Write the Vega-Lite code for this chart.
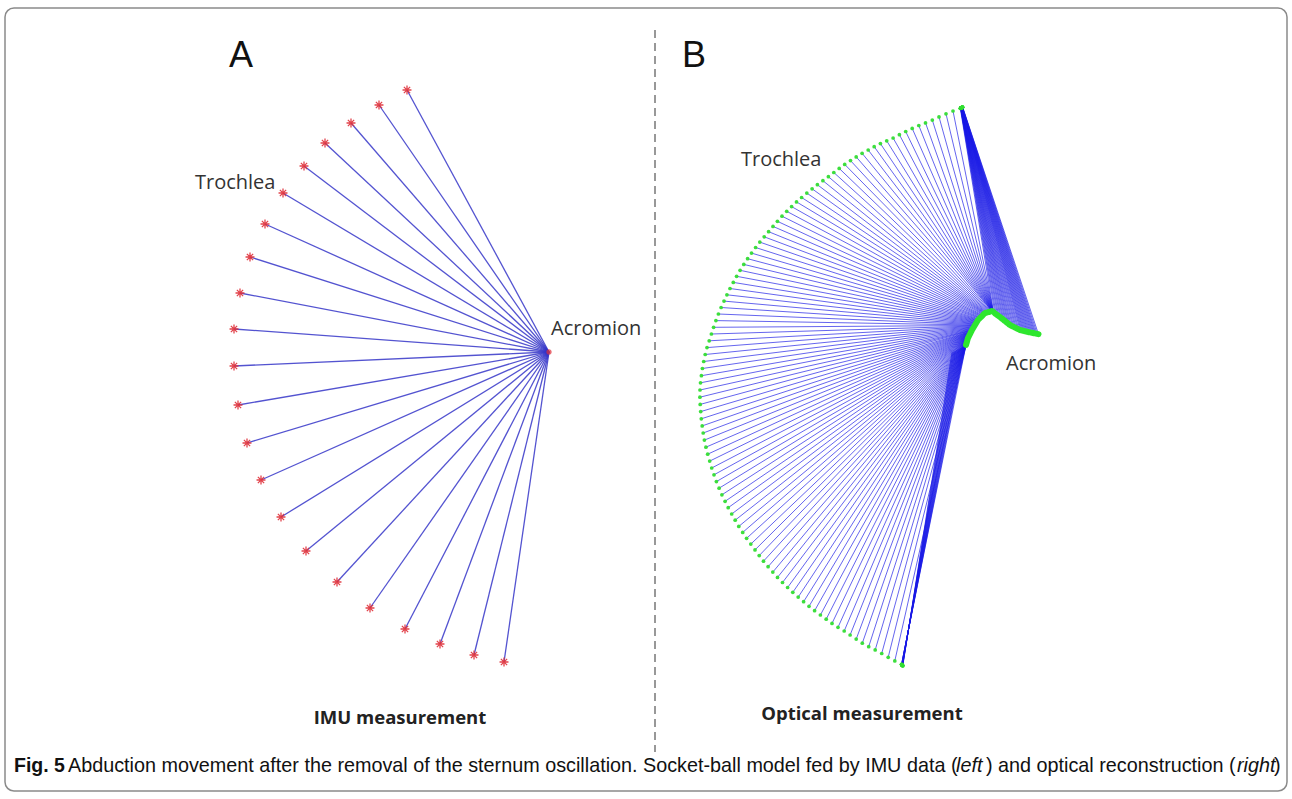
{
  "$schema": "https://vega.github.io/schema/vega-lite/v6.json",
  "width": 1292,
  "height": 799,
  "padding": 0,
  "autosize": {"type": "none"},
  "background": "white",
  "config": {"view": {"stroke": null}},
  "datasets": {
    "frame": [{"x0":5,"x1":1287,"y0":8,"y1":791,"dx":655,"dy0":30,"dy1":752,"acx":549,"acy":352}],
    "left": [
      {"x":407,"y":90},{"x":379,"y":105},{"x":351,"y":123},{"x":325,"y":143},{"x":304,"y":166},{"x":283,"y":193},{"x":265,"y":224},{"x":250,"y":257},{"x":240,"y":293},{"x":234,"y":329},{"x":234,"y":366},{"x":238,"y":405},{"x":247,"y":443},{"x":261,"y":480},{"x":281,"y":517},{"x":306,"y":551},{"x":337,"y":582},{"x":370,"y":608},{"x":405,"y":629},{"x":440,"y":644},{"x":474,"y":655},{"x":504,"y":662}
    ],
    "opt": [
      {"x":902.8,"y":665.8,"ax":952,"ay":352.5,"b":1},{"x":902.7,"y":665.7,"ax":953,"ay":352,"b":1},{"x":902.6,"y":665.6,"ax":954,"ay":351.5,"b":1},{"x":902.5,"y":665.5,"ax":955,"ay":351,"b":1},{"x":902.4,"y":665.4,"ax":956,"ay":350.5,"b":1},{"x":902.3,"y":665.3,"ax":957,"ay":350,"b":1},{"x":902.2,"y":665.2,"ax":958,"ay":349.5,"b":1},{"x":902.1,"y":665.1,"ax":959,"ay":349,"b":1},{"x":902,"y":665,"ax":960,"ay":348.5,"b":1},{"x":901.9,"y":664.9,"ax":961,"ay":348,"b":1},{"x":901.8,"y":664.7,"ax":962,"ay":347.5,"b":1},{"x":901.7,"y":664.6,"ax":963,"ay":347,"b":1},{"x":901.6,"y":664.5,"ax":964,"ay":346.3,"b":1},{"x":901.6,"y":664.4,"ax":965,"ay":345.7,"b":1},
      {"x":901.5,"y":664.3,"ax":966,"ay":345},{"x":894.8,"y":660.9,"ax":966.1,"ay":344.7},{"x":888.2,"y":657.3,"ax":966.2,"ay":344.4},{"x":881.7,"y":653.5,"ax":966.3,"ay":344.1},{"x":875.2,"y":649.9,"ax":966.3,"ay":343.8},{"x":868.7,"y":646.7,"ax":966.4,"ay":343.5},{"x":862.3,"y":643.2,"ax":966.5,"ay":343.2},{"x":856.2,"y":639.1,"ax":966.6,"ay":342.9},{"x":850.1,"y":635,"ax":966.7,"ay":342.6},{"x":844.2,"y":631,"ax":966.8,"ay":342.4},
      {"x":838,"y":627.3,"ax":966.8,"ay":342.1},{"x":832,"y":623.4,"ax":966.9,"ay":341.8},{"x":826.2,"y":619.2,"ax":967,"ay":341.5},{"x":820.4,"y":615,"ax":967.1,"ay":341.2},{"x":814.6,"y":610.7,"ax":967.2,"ay":340.9},{"x":809,"y":606.3,"ax":967.3,"ay":340.6},{"x":803.6,"y":601.7,"ax":967.3,"ay":340.3},{"x":798.2,"y":597.1,"ax":967.4,"ay":340},{"x":792.8,"y":592.3,"ax":967.5,"ay":339.7},{"x":787.6,"y":587.5,"ax":967.6,"ay":339.4},
      {"x":782.5,"y":582.5,"ax":967.7,"ay":339.1},{"x":777.5,"y":577.4,"ax":967.8,"ay":338.8},{"x":772.8,"y":572.1,"ax":967.8,"ay":338.6},{"x":768.1,"y":566.7,"ax":967.9,"ay":338.2},{"x":763.5,"y":561.2,"ax":968,"ay":338},{"x":759.2,"y":555.6,"ax":968.2,"ay":337.7},{"x":755,"y":549.9,"ax":968.3,"ay":337.4},{"x":750.8,"y":544.1,"ax":968.5,"ay":337.1},{"x":746.6,"y":538.3,"ax":968.6,"ay":336.8},{"x":742.7,"y":532.4,"ax":968.8,"ay":336.5},
      {"x":738.8,"y":526.4,"ax":968.9,"ay":336.2},{"x":735.2,"y":520.2,"ax":969.1,"ay":335.9},{"x":731.7,"y":514,"ax":969.2,"ay":335.6},{"x":728.2,"y":507.7,"ax":969.4,"ay":335.3},{"x":725.1,"y":501.3,"ax":969.5,"ay":335},{"x":721.9,"y":494.8,"ax":969.7,"ay":334.7},{"x":719.1,"y":488.2,"ax":969.8,"ay":334.4},{"x":716.4,"y":481.6,"ax":970,"ay":334.1},{"x":714,"y":474.8,"ax":970.1,"ay":333.8},{"x":711.7,"y":468,"ax":970.3,"ay":333.5},
      {"x":709.7,"y":461.1,"ax":970.4,"ay":333.2},{"x":707.7,"y":454.2,"ax":970.6,"ay":332.9},{"x":705.9,"y":447.2,"ax":970.7,"ay":332.6},{"x":704.4,"y":440.1,"ax":970.9,"ay":332.3},{"x":703.2,"y":433,"ax":971,"ay":332},{"x":702.2,"y":425.9,"ax":971.2,"ay":331.7},{"x":701.3,"y":418.8,"ax":971.3,"ay":331.4},{"x":700.7,"y":411.6,"ax":971.5,"ay":331.1},{"x":700.2,"y":404.4,"ax":971.6,"ay":330.6},{"x":699.9,"y":397.2,"ax":971.8,"ay":330.3},
      {"x":700,"y":390,"ax":972,"ay":330},{"x":700.5,"y":382.8,"ax":972.3,"ay":329.5},{"x":701.4,"y":375.7,"ax":972.6,"ay":329},{"x":702.4,"y":368.5,"ax":972.9,"ay":328.5},{"x":703.7,"y":361.5,"ax":973.2,"ay":328},{"x":705.2,"y":354.5,"ax":973.5,"ay":327.5},{"x":707,"y":347.6,"ax":973.8,"ay":327},{"x":709.2,"y":340.8,"ax":974.1,"ay":326.5},{"x":711.4,"y":334,"ax":974.4,"ay":326},{"x":713.6,"y":327.3,"ax":974.7,"ay":325.5},
      {"x":715.9,"y":320.6,"ax":975,"ay":325},{"x":718.4,"y":314,"ax":975.3,"ay":324.5},{"x":721.1,"y":307.5,"ax":975.6,"ay":324},{"x":724,"y":301.1,"ax":975.9,"ay":323.5},{"x":726.9,"y":294.8,"ax":976.2,"ay":323},{"x":730,"y":288.5,"ax":976.5,"ay":322.5},{"x":733.3,"y":282.4,"ax":976.8,"ay":322},{"x":736.6,"y":276.3,"ax":977.1,"ay":321.5},{"x":740.1,"y":270.3,"ax":977.4,"ay":321},{"x":743.8,"y":264.4,"ax":977.7,"ay":320.5},
      {"x":747.6,"y":258.7,"ax":978,"ay":320},{"x":751.5,"y":253.1,"ax":978.5,"ay":319.5},{"x":755.6,"y":247.5,"ax":979,"ay":319},{"x":759.8,"y":242.1,"ax":979.6,"ay":318.4},{"x":764.2,"y":236.8,"ax":980.1,"ay":317.9},{"x":768.6,"y":231.7,"ax":980.6,"ay":317.4},{"x":773,"y":226.4,"ax":981.2,"ay":316.8},{"x":777.4,"y":221.3,"ax":981.7,"ay":316.3},{"x":782,"y":216.2,"ax":982.2,"ay":315.8},{"x":786.7,"y":211.3,"ax":982.7,"ay":315.3},
      {"x":791.6,"y":206.6,"ax":983.3,"ay":314.7},{"x":796.5,"y":201.9,"ax":983.8,"ay":314.2},{"x":801.6,"y":197.5,"ax":984.3,"ay":313.7},{"x":806.8,"y":193.1,"ax":984.7,"ay":313.3},{"x":812.1,"y":188.8,"ax":985.2,"ay":313},{"x":817.4,"y":184.7,"ax":985.9,"ay":312.8},{"x":822.9,"y":180.7,"ax":986.6,"ay":312.6},{"x":828.4,"y":176.7,"ax":987.4,"ay":312.4},{"x":833.8,"y":172.5,"ax":988.1,"ay":312.2},{"x":839.2,"y":168.4,"ax":988.8,"ay":312},
      {"x":844.7,"y":164.4,"ax":989.5,"ay":311.8},{"x":850.5,"y":160.6,"ax":990.2,"ay":311.6},{"x":856.2,"y":156.9,"ax":990.9,"ay":311.3},{"x":862.1,"y":153.3,"ax":991.6,"ay":311.1},{"x":868.2,"y":150,"ax":991.8,"ay":311.1},{"x":874.2,"y":146.7,"ax":992,"ay":311.1},{"x":880.4,"y":143.6,"ax":992.2,"ay":311.2},{"x":886.7,"y":140.8,"ax":992.4,"ay":311.2},{"x":893.1,"y":138,"ax":992.5,"ay":311.3},{"x":899.4,"y":134.7,"ax":992.6,"ay":311.3},
      {"x":905.7,"y":131.5,"ax":992.7,"ay":311.4},{"x":912.2,"y":128.4,"ax":992.8,"ay":311.4},{"x":918.8,"y":125.5,"ax":992.9,"ay":311.5},{"x":925.5,"y":122.9,"ax":993,"ay":311.5},{"x":932.3,"y":120.1,"ax":993.1,"ay":311.6},{"x":939,"y":116.9,"ax":993.2,"ay":311.7},{"x":946,"y":113.8,"ax":993.3,"ay":311.8},{"x":953,"y":111,"ax":993.4,"ay":311.9},{"x":960.3,"y":108.4,"ax":993.5,"ay":312},
      {"x":960.6,"y":108.3,"ax":995,"ay":313.5},{"x":960.65,"y":108.25,"ax":996.2,"ay":314.3},{"x":960.7,"y":108.2,"ax":997.5,"ay":315.2},{"x":960.75,"y":108.2,"ax":998.7,"ay":316.1},{"x":960.8,"y":108.2,"ax":1000,"ay":317},{"x":960.85,"y":108.15,"ax":1001.2,"ay":318},{"x":960.9,"y":108.1,"ax":1002.5,"ay":319},{"x":960.95,"y":108.05,"ax":1003.7,"ay":320},{"x":961,"y":108,"ax":1005,"ay":321},{"x":961.05,"y":108,"ax":1006.2,"ay":322},
      {"x":961.1,"y":108,"ax":1007.5,"ay":323},{"x":961.15,"y":107.95,"ax":1008.7,"ay":324},{"x":961.2,"y":107.9,"ax":1010,"ay":325},{"x":961.25,"y":107.85,"ax":1011.2,"ay":325.7},{"x":961.3,"y":107.8,"ax":1012.5,"ay":326.3},{"x":961.35,"y":107.8,"ax":1013.7,"ay":326.9},{"x":961.4,"y":107.8,"ax":1015,"ay":327.5},{"x":961.45,"y":107.75,"ax":1016.2,"ay":328.1},{"x":961.5,"y":107.7,"ax":1017.5,"ay":328.8},{"x":961.55,"y":107.65,"ax":1018.7,"ay":329.4},
      {"x":961.6,"y":107.6,"ax":1020,"ay":330},{"x":961.65,"y":107.6,"ax":1021,"ay":330.2},{"x":961.7,"y":107.6,"ax":1022,"ay":330.5},{"x":961.75,"y":107.55,"ax":1023,"ay":330.7},{"x":961.8,"y":107.5,"ax":1024,"ay":331},{"x":961.85,"y":107.5,"ax":1025,"ay":331.2},{"x":961.9,"y":107.5,"ax":1026,"ay":331.5},{"x":961.95,"y":107.45,"ax":1027,"ay":331.7},{"x":962,"y":107.4,"ax":1028,"ay":332},{"x":962.05,"y":107.4,"ax":1029,"ay":332.2},
      {"x":962.1,"y":107.4,"ax":1030,"ay":332.4},{"x":962.15,"y":107.35,"ax":1031,"ay":332.6},{"x":962.2,"y":107.3,"ax":1032,"ay":332.8},{"x":962.25,"y":107.3,"ax":1033,"ay":333},{"x":962.3,"y":107.3,"ax":1034,"ay":333.2},{"x":962.4,"y":107.25,"ax":1035,"ay":333.4},{"x":962.5,"y":107.2,"ax":1036,"ay":333.6},{"x":962.55,"y":107.15,"ax":1037.2,"ay":333.9},{"x":962.6,"y":107.1,"ax":1038.5,"ay":334.2}
    ],
    "labels": [
      {"g":"big","t":"A","x":229,"y":67},
      {"g":"big","t":"B","x":682,"y":67},
      {"g":"lab","t":"Trochlea","x":195,"y":189},
      {"g":"lab","t":"Acromion","x":551,"y":335},
      {"g":"lab","t":"Trochlea","x":741,"y":166},
      {"g":"lab","t":"Acromion","x":1006,"y":370},
      {"g":"sub","t":"IMU measurement","x":400,"y":724},
      {"g":"sub","t":"Optical  measurement","x":862,"y":720},
      {"g":"capb","t":"Fig. 5","x":14,"y":772},
      {"g":"cap","t":"Abduction movement after the removal of the sternum oscillation. Socket-ball model fed by IMU data (","x":68,"y":772},
      {"g":"capi","t":"left","x":956,"y":772},
      {"g":"cap","t":") and optical reconstruction (","x":986,"y":772},
      {"g":"capi","t":"right","x":1237,"y":772},
      {"g":"cap","t":")","x":1274,"y":772}
    ]
  },
  "layer": [
    {
      "data": {"name": "frame"},
      "mark": {"type": "rect", "filled": false, "fill": null, "stroke": "#8a8a8a", "strokeWidth": 1.5, "cornerRadius": 9},
      "encoding": {
        "x": {"field": "x0", "type": "quantitative", "scale": {"domain": [0, 1292], "nice": false, "zero": false}, "axis": null},
        "x2": {"field": "x1"},
        "y": {"field": "y0", "type": "quantitative", "scale": {"domain": [0, 799], "nice": false, "zero": false, "reverse": true}, "axis": null},
        "y2": {"field": "y1"}
      }
    },
    {
      "data": {"name": "frame"},
      "mark": {"type": "rule", "stroke": "#777777", "strokeWidth": 1.5, "strokeDash": [8, 5]},
      "encoding": {
        "x": {"field": "dx", "type": "quantitative"},
        "y": {"field": "dy0", "type": "quantitative"},
        "y2": {"field": "dy1"}
      }
    },
    {
      "data": {"name": "left"},
      "mark": {"type": "rule", "stroke": "#3535c8", "strokeWidth": 1.3, "opacity": 0.85},
      "encoding": {
        "x": {"field": "x", "type": "quantitative"},
        "y": {"field": "y", "type": "quantitative"},
        "x2": {"datum": 549},
        "y2": {"datum": 352}
      }
    },
    {
      "data": {"name": "left"},
      "mark": {"type": "point", "shape": "M-1,0L1,0M0,-1L0,1M-0.7,-0.7L0.7,0.7M-0.7,0.7L0.7,-0.7", "filled": false, "stroke": "#e0303a", "strokeWidth": 1.3, "size": 80, "opacity": 0.9},
      "encoding": {
        "x": {"field": "x", "type": "quantitative"},
        "y": {"field": "y", "type": "quantitative"}
      }
    },
    {
      "data": {"name": "frame"},
      "mark": {"type": "point", "shape": "M-1,0L1,0M0,-1L0,1M-0.7,-0.7L0.7,0.7M-0.7,0.7L0.7,-0.7", "filled": false, "stroke": "#e0303a", "strokeWidth": 1.6, "size": 30},
      "encoding": {
        "x": {"field": "acx", "type": "quantitative"},
        "y": {"field": "acy", "type": "quantitative"}
      }
    },
    {
      "data": {"name": "opt"},
      "mark": {"type": "rule", "stroke": "#1a1ae6", "strokeWidth": 0.9, "opacity": 0.75},
      "encoding": {
        "x": {"field": "x", "type": "quantitative"},
        "y": {"field": "y", "type": "quantitative"},
        "x2": {"field": "ax"},
        "y2": {"field": "ay"}
      }
    },
    {
      "data": {"name": "opt"},
      "transform": [{"filter": "!datum.b"}],
      "mark": {"type": "line", "stroke": "#2ee62e", "strokeWidth": 6, "strokeCap": "round", "strokeJoin": "round"},
      "encoding": {
        "x": {"field": "ax", "type": "quantitative"},
        "y": {"field": "ay", "type": "quantitative"}
      }
    },
    {
      "data": {"name": "opt"},
      "mark": {"type": "circle", "fill": "#33dd33", "size": 14, "opacity": 0.95},
      "encoding": {
        "x": {"field": "x", "type": "quantitative"},
        "y": {"field": "y", "type": "quantitative"}
      }
    },
    {
      "data": {"name": "labels"},
      "transform": [{"filter": "datum.g === 'big'"}],
      "mark": {"type": "text", "align": "left", "baseline": "alphabetic", "font": "Liberation Sans", "fontSize": 36, "color": "#111111"},
      "encoding": {
        "x": {"field": "x", "type": "quantitative"},
        "y": {"field": "y", "type": "quantitative"},
        "text": {"field": "t"}
      }
    },
    {
      "data": {"name": "labels"},
      "transform": [{"filter": "datum.g === 'lab'"}],
      "mark": {"type": "text", "align": "left", "baseline": "alphabetic", "font": "Open Sans", "fontSize": 20, "color": "#333333"},
      "encoding": {
        "x": {"field": "x", "type": "quantitative"},
        "y": {"field": "y", "type": "quantitative"},
        "text": {"field": "t"}
      }
    },
    {
      "data": {"name": "labels"},
      "transform": [{"filter": "datum.g === 'sub'"}],
      "mark": {"type": "text", "align": "center", "baseline": "alphabetic", "font": "Open Sans", "fontWeight": "bold", "fontSize": 18.5, "color": "#222222"},
      "encoding": {
        "x": {"field": "x", "type": "quantitative"},
        "y": {"field": "y", "type": "quantitative"},
        "text": {"field": "t"}
      }
    },
    {
      "data": {"name": "labels"},
      "transform": [{"filter": "datum.g === 'capb'"}],
      "mark": {"type": "text", "align": "left", "baseline": "alphabetic", "font": "Liberation Sans", "fontWeight": "bold", "fontSize": 19.5, "color": "#111111"},
      "encoding": {
        "x": {"field": "x", "type": "quantitative"},
        "y": {"field": "y", "type": "quantitative"},
        "text": {"field": "t"}
      }
    },
    {
      "data": {"name": "labels"},
      "transform": [{"filter": "datum.g === 'cap'"}],
      "mark": {"type": "text", "align": "left", "baseline": "alphabetic", "font": "Liberation Sans", "fontSize": 19.8, "color": "#111111"},
      "encoding": {
        "x": {"field": "x", "type": "quantitative"},
        "y": {"field": "y", "type": "quantitative"},
        "text": {"field": "t"}
      }
    },
    {
      "data": {"name": "labels"},
      "transform": [{"filter": "datum.g === 'capi'"}],
      "mark": {"type": "text", "align": "left", "baseline": "alphabetic", "font": "Liberation Sans", "fontStyle": "italic", "fontSize": 19.8, "color": "#111111"},
      "encoding": {
        "x": {"field": "x", "type": "quantitative"},
        "y": {"field": "y", "type": "quantitative"},
        "text": {"field": "t"}
      }
    }
  ]
}
